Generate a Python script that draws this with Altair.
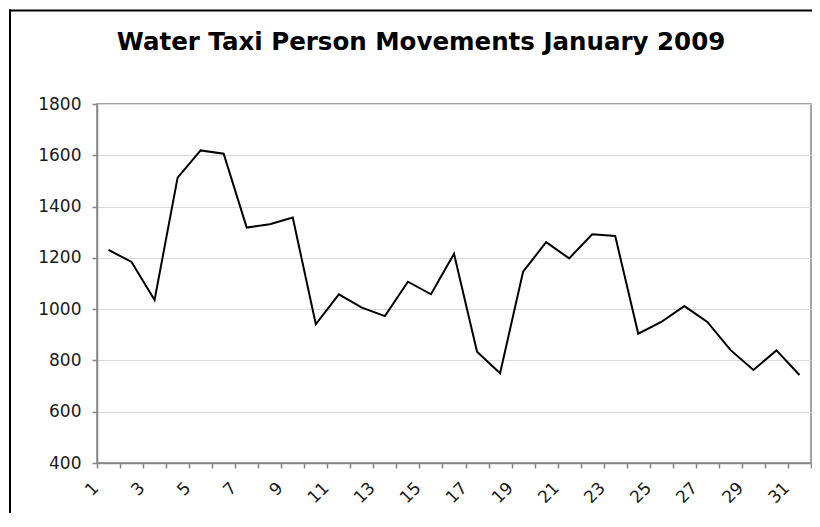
import altair as alt
import pandas as pd

# ---- data ----
days = list(range(1, 32))
movements = [1231, 1184, 1036, 1513, 1619, 1606, 1318, 1331, 1357, 941,
             1058, 1006, 973, 1107, 1058, 1216, 834, 750, 1146, 1261,
             1198, 1292, 1285, 904, 950, 1012, 950, 841, 763, 839, 743]
y_ticks = [400, 600, 800, 1000, 1200, 1400, 1600, 1800]
title_text = "Water Taxi Person Movements January 2009"

df = pd.DataFrame({"day": days, "movements": movements})

AXIS_GREY = "#868686"
LABEL_FONT = "DejaVu Sans"
W, H = 714, 359

line = alt.Chart(df).mark_line(color="black", strokeWidth=2).encode(
    x=alt.X(
        "day:O",
        bandPosition=0.5,
        scale=alt.Scale(type="band", paddingInner=0, paddingOuter=0),
        axis=alt.Axis(
            title=None, labelAngle=-45, labelAlign="right", labelBaseline="middle",
            labelExpr="datum.value % 2 == 1 ? datum.label : ''",
            tickBand="extent", tickSize=5, tickColor=AXIS_GREY, tickWidth=1.5,
            labelPadding=17, labelOffset=-13, labelOverlap=False, labelBound=False,
            grid=False, domainColor=AXIS_GREY, domainWidth=1.5,
            labelFont=LABEL_FONT, labelFontSize=17, labelColor="#1a1a1a",
        ),
    ),
    y=alt.Y(
        "movements:Q",
        scale=alt.Scale(domain=[400, 1800], nice=False, zero=False),
        axis=alt.Axis(
            title=None, values=y_ticks, format="d", tickSize=5, tickColor=AXIS_GREY,
            tickWidth=1.5, labelPadding=11, grid=True, gridColor="#d9d9d9", gridWidth=1,
            domainColor=AXIS_GREY, domainWidth=1.5,
            labelFont=LABEL_FONT, labelFontSize=17, labelColor="#1a1a1a",
        ),
    ),
)

one = pd.DataFrame({"t": [title_text]})

# outer chart frame: only its top and left edges fall inside the picture
frame_top = alt.Chart(one).mark_rule(color="black", strokeWidth=2).encode(
    x=alt.value(-88), x2=alt.value(W + 1), y=alt.value(-93.5),
)
frame_left = alt.Chart(one).mark_rule(color="black", strokeWidth=2).encode(
    x=alt.value(-87), y=alt.value(-94.5), y2=alt.value(H + 60),
)

title = alt.Chart(one).mark_text(
    font="DejaVu Sans", fontSize=24.5, fontWeight="bold", color="black",
    align="center", baseline="alphabetic",
).encode(
    text="t:N", x=alt.value(324), y=alt.value(-54),
)

chart = alt.layer(frame_top, frame_left, title, line).properties(
    width=W,
    height=H,
    autosize=alt.AutoSizeParams(type="none"),
    padding={"left": 89, "top": 96, "right": 1, "bottom": 50},
).configure_view(stroke=AXIS_GREY, strokeWidth=1.5)

chart.save("out.html", embed_options={"renderer": "svg", "actions": False})
